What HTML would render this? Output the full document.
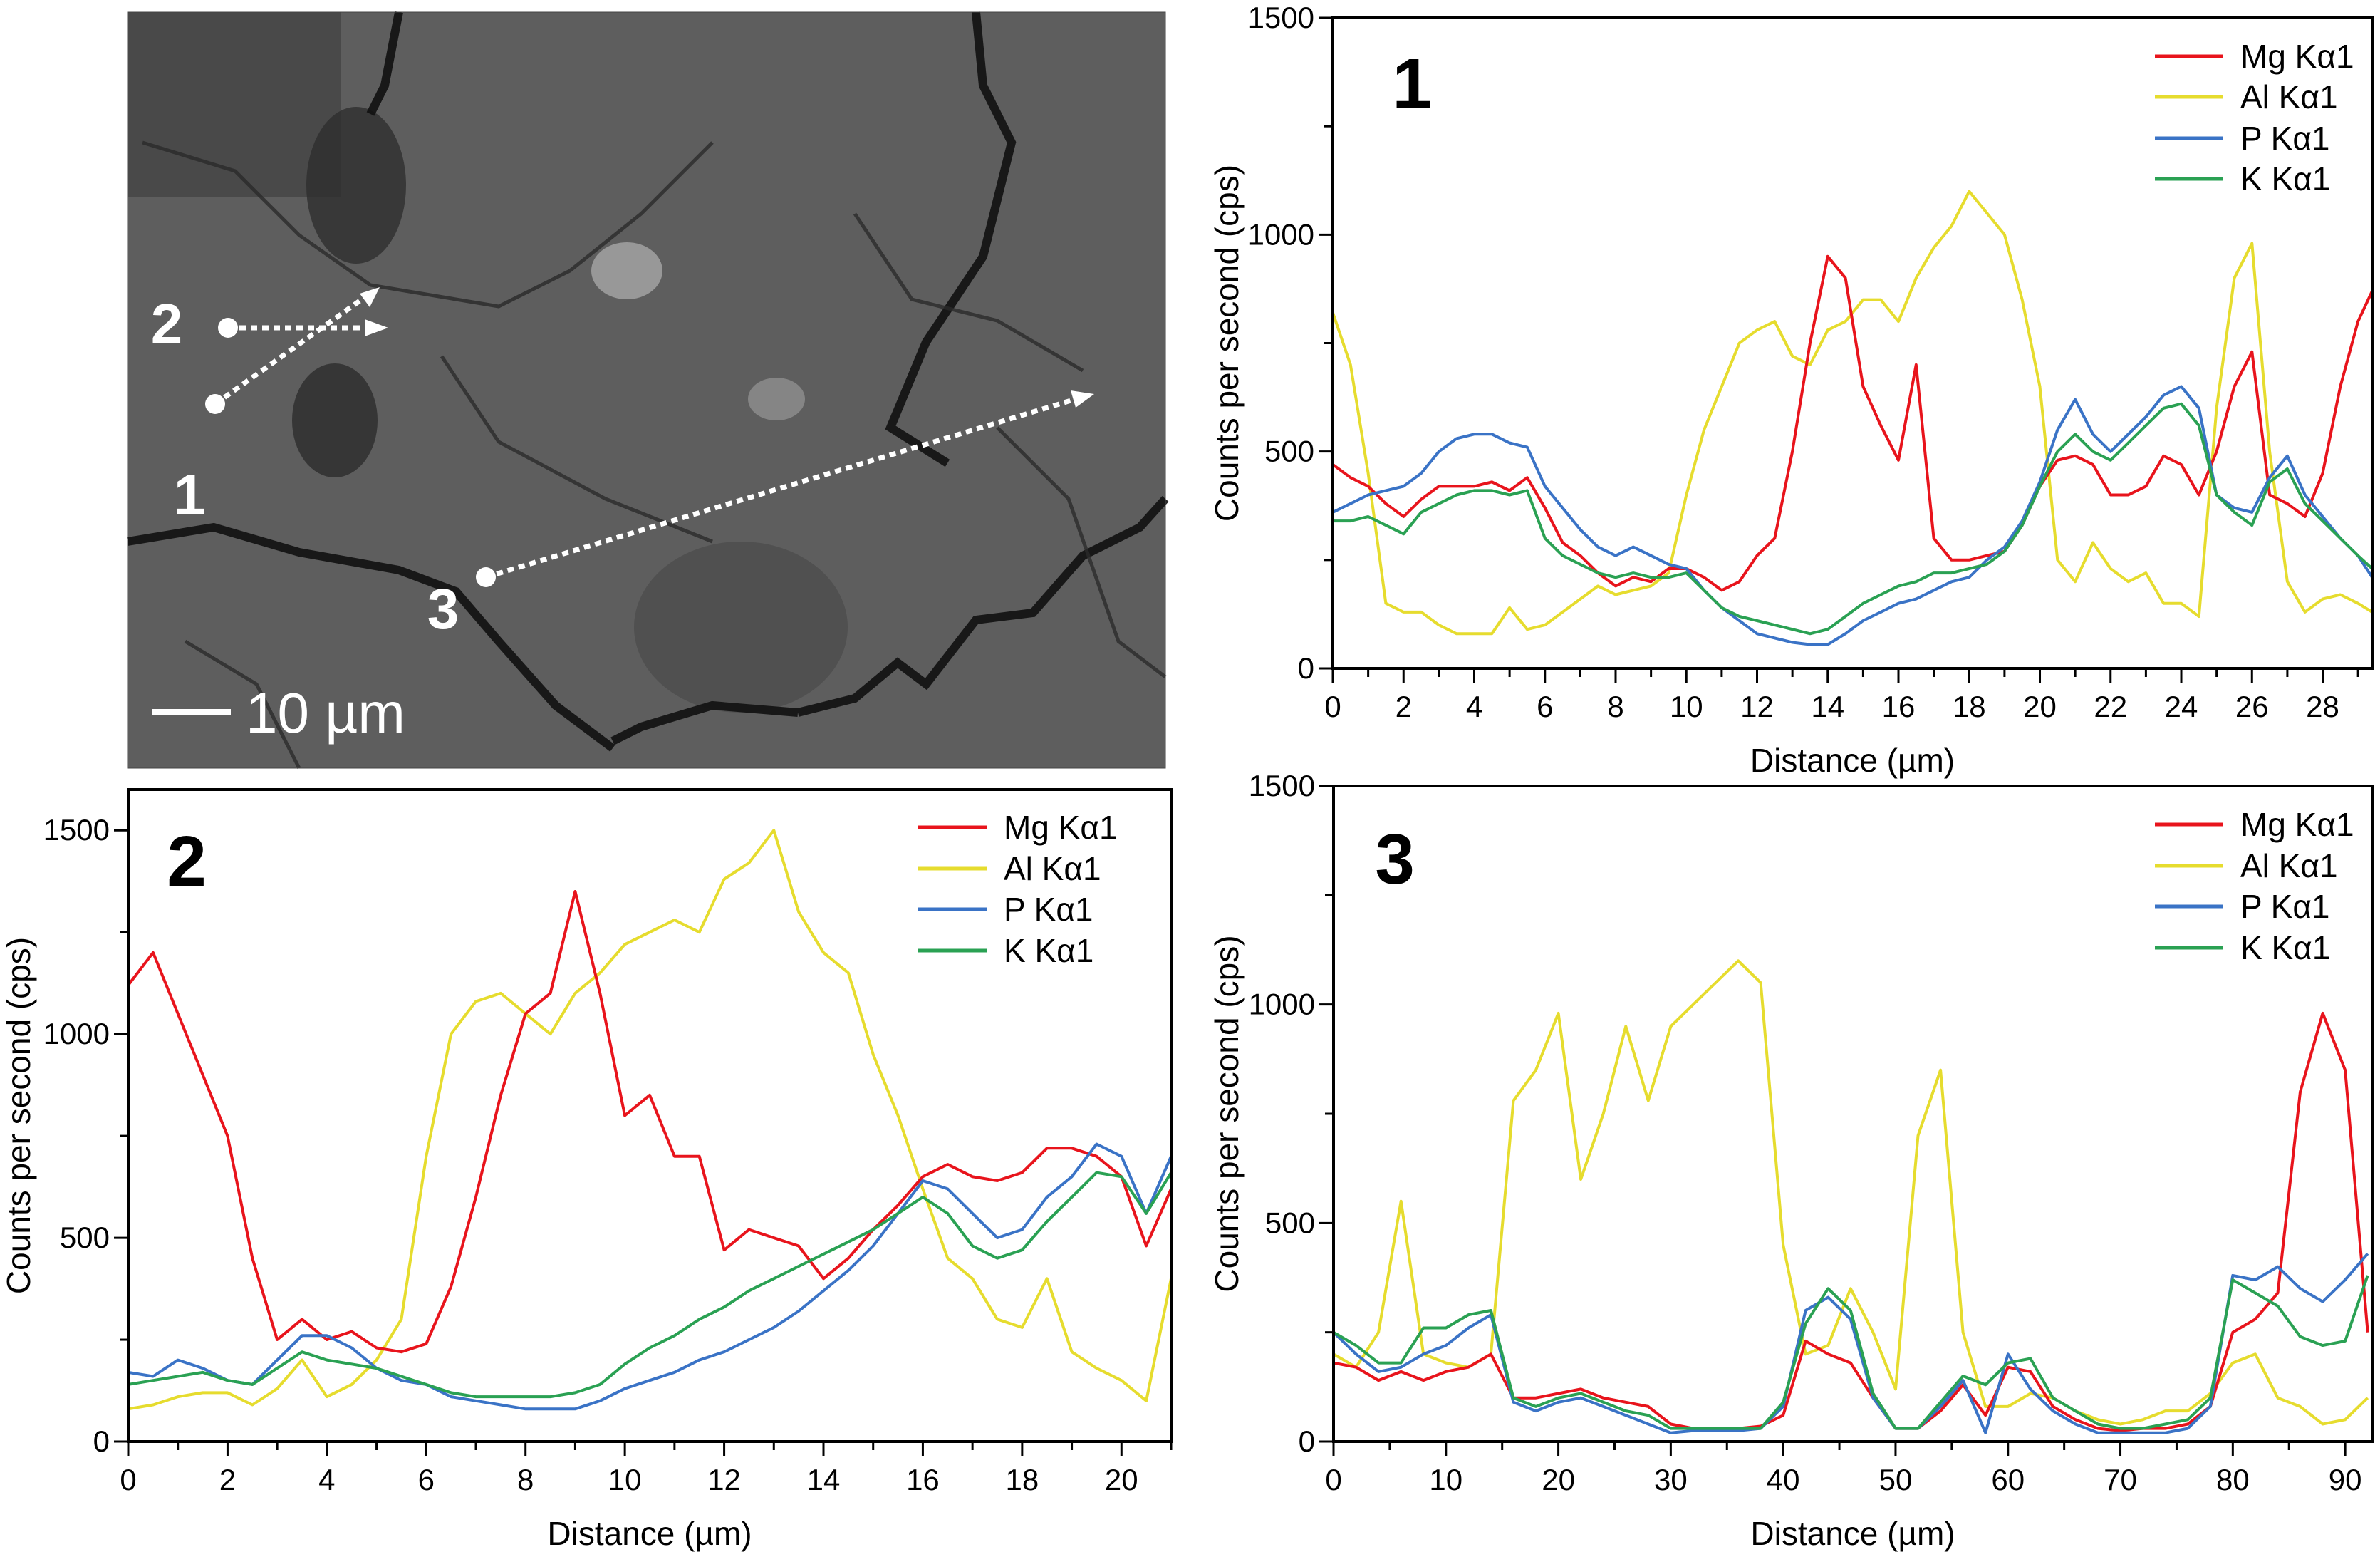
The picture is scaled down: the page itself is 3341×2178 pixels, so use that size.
<!DOCTYPE html>
<html><head><meta charset="utf-8"><style>
html,body{margin:0;padding:0;background:#fff;}
svg{display:block;font-family:"Liberation Sans",Arial,sans-serif;}
</style></head><body>
<svg id="fig" width="3341" height="2178" viewBox="0 0 3341 2178" xmlns="http://www.w3.org/2000/svg">
<g>
<rect x="179" y="17" width="1457" height="1061" fill="#5e5e5e"/>
<rect x="179" y="17" width="300" height="260" fill="#3c3c3c" opacity="0.6"/>
<ellipse cx="500" cy="260" rx="70" ry="110" fill="#2e2e2e" opacity="0.8"/>
<ellipse cx="470" cy="590" rx="60" ry="80" fill="#2c2c2c" opacity="0.8"/>
<ellipse cx="880" cy="380" rx="50" ry="40" fill="#b0b0b0" opacity="0.7"/>
<ellipse cx="1090" cy="560" rx="40" ry="30" fill="#a0a0a0" opacity="0.6"/>
<ellipse cx="1040" cy="880" rx="150" ry="120" fill="#4a4a4a" opacity="0.7"/>
<g fill="none" stroke="#111" stroke-width="12" opacity="0.9">
<polyline points="179,760 300,740 420,775 560,800 640,830 700,900 780,990 860,1050"/>
<polyline points="1370,17 1380,120 1420,200 1380,360 1300,480 1250,600 1330,650"/>
<polyline points="1120,1000 1200,980 1260,930 1300,960 1370,870 1450,860 1520,780 1600,740 1636,700"/>
<polyline points="860,1040 900,1020 1000,990 1120,1000"/>
<polyline points="560,17 540,120 520,160"/>
</g>
<g fill="none" stroke="#2a2a2a" stroke-width="5" opacity="0.8">
<polyline points="200,200 330,240 420,330 520,400 700,430 800,380 900,300 1000,200"/>
<polyline points="260,900 360,960 420,1078"/>
<polyline points="1200,300 1280,420 1400,450 1520,520"/>
<polyline points="620,500 700,620 850,700 1000,760"/>
<polyline points="1400,600 1500,700 1570,900 1636,950"/>
</g>
<rect x="179" y="17" width="1457" height="1061" fill="none" stroke="#444" stroke-width="1"/>
<g stroke="#fff" stroke-width="7" stroke-dasharray="9,7" fill="none">
<line x1="320" y1="460" x2="520" y2="460"/>
<line x1="302" y1="567" x2="515" y2="415"/>
<line x1="682" y1="810" x2="1510" y2="560"/>
</g>
<g fill="#fff">
<polygon points="545,460 512,448 512,472"/>
<polygon points="533,403 505,412 519,431"/>
<polygon points="1536,553 1503,548 1510,572"/>
<circle cx="320" cy="460" r="14"/><circle cx="302" cy="567" r="14"/><circle cx="682" cy="810" r="14"/>
<rect x="213" y="995" width="111" height="8"/>
</g>
<g fill="#fff" font-weight="bold" font-size="80">
<text x="234" y="482" text-anchor="middle">2</text>
<text x="266" y="722" text-anchor="middle">1</text>
<text x="622" y="882" text-anchor="middle">3</text>
</g>
<text x="345" y="1028" fill="#fff" font-size="80">10 µm</text>
</g>
</svg>
<script>
// ---- Chart 1 data ----
const c1x = [0,0.5,1,1.5,2,2.5,3,3.5,4,4.5,5,5.5,6,6.5,7,7.5,8,8.5,9,9.5,10,10.5,11,11.5,12,12.5,13,13.5,14,14.5,15,15.5,16,16.5,17,17.5,18,18.5,19,19.5,20,20.5,21,21.5,22,22.5,23,23.5,24,24.5,25,25.5,26,26.5,27,27.5,28,28.5,29,29.4];
const c1Mg = [470,440,420,380,350,390,420,420,420,430,410,440,370,290,260,220,190,210,200,230,230,210,180,200,260,300,500,750,950,900,650,560,480,700,300,250,250,260,270,330,420,480,490,470,400,400,420,490,470,400,500,650,730,400,380,350,450,650,800,870];
const c1Al = [820,700,450,150,130,130,100,80,80,80,140,90,100,130,160,190,170,180,190,220,400,550,650,750,780,800,720,700,780,800,850,850,800,900,970,1020,1100,1050,1000,850,650,250,200,290,230,200,220,150,150,120,600,900,980,500,200,130,160,170,150,130];
const c1P = [360,380,400,410,420,450,500,530,540,540,520,510,420,370,320,280,260,280,260,240,230,180,140,110,80,70,60,55,55,80,110,130,150,160,180,200,210,250,280,340,430,550,620,540,500,540,580,630,650,600,400,370,360,440,490,400,350,300,260,210];
const c1K = [340,340,350,330,310,360,380,400,410,410,400,410,300,260,240,220,210,220,210,210,220,180,140,120,110,100,90,80,90,120,150,170,190,200,220,220,230,240,270,330,420,500,540,500,480,520,560,600,610,560,400,360,330,430,460,380,340,300,260,230];
// ---- Chart 2 data ----
const c2x = [0,0.5,1,1.5,2,2.5,3,3.5,4,4.5,5,5.5,6,6.5,7,7.5,8,8.5,9,9.5,10,10.5,11,11.5,12,12.5,13,13.5,14,14.5,15,15.5,16,16.5,17,17.5,18,18.5,19,19.5,20,20.5,21];
const c2Mg = [1120,1200,1050,900,750,450,250,300,250,270,230,220,240,380,600,850,1050,1100,1350,1100,800,850,700,700,470,520,500,480,400,450,520,580,650,680,650,640,660,720,720,700,650,480,620];
const c2Al = [80,90,110,120,120,90,130,200,110,140,200,300,700,1000,1080,1100,1050,1000,1100,1150,1220,1250,1280,1250,1380,1420,1500,1300,1200,1150,950,800,620,450,400,300,280,400,220,180,150,100,400];
const c2P = [170,160,200,180,150,140,200,260,260,230,180,150,140,110,100,90,80,80,80,100,130,150,170,200,220,250,280,320,370,420,480,560,640,620,560,500,520,600,650,730,700,560,700];
const c2K = [140,150,160,170,150,140,180,220,200,190,180,160,140,120,110,110,110,110,120,140,190,230,260,300,330,370,400,430,460,490,520,560,600,560,480,450,470,540,600,660,650,560,660];
// ---- Chart 3 data ----
const c3x = [0,2,4,6,8,10,12,14,16,18,20,22,24,26,28,30,32,34,36,38,40,42,44,46,48,50,52,54,56,58,60,62,64,66,68,70,72,74,76,78,80,82,84,86,88,90,92];
const c3Mg = [180,170,140,160,140,160,170,200,100,100,110,120,100,90,80,40,30,30,30,35,60,230,200,180,100,30,30,70,130,60,170,160,80,50,30,25,30,30,40,80,250,280,340,800,980,850,250];
const c3Al = [200,170,250,550,200,180,170,200,780,850,980,600,750,950,780,950,1000,1050,1100,1050,450,200,220,350,250,120,700,850,250,80,80,110,100,70,50,40,50,70,70,110,180,200,100,80,40,50,100];
const c3P = [250,200,160,170,200,220,260,290,90,70,90,100,80,60,40,20,25,25,25,30,80,300,330,280,100,30,30,80,140,20,200,120,70,40,20,20,20,20,30,80,380,370,400,350,320,370,430];
const c3K = [250,220,180,180,260,260,290,300,100,80,100,110,90,70,60,30,30,30,30,30,90,270,350,300,110,30,30,90,150,130,180,190,100,70,40,30,30,40,50,100,370,340,310,240,220,230,380];
// ---- tick labels ----
const c1XTicks = [0,2,4,6,8,10,12,14,16,18,20,22,24,26,28];
const c2XTicks = [0,2,4,6,8,10,12,14,16,18,20];
const c3XTicks = [0,10,20,30,40,50,60,70,80,90];
const yTicks = [0,500,1000,1500];
const seriesNames = ["Mg Kα1","Al Kα1","P Kα1","K Kα1"];
const seriesColors = ["#e8141c","#e6dc2e","#3a73c6","#2aa153"];

const NS = "http://www.w3.org/2000/svg";
const svg = document.getElementById("fig");
function mk(tag, attrs, parent){const e=document.createElementNS(NS,tag);for(const k in attrs)e.setAttribute(k,attrs[k]);(parent||svg).appendChild(e);return e;}

function chart(id, box, xmax, ymax, xs, series, xTicks, xMinor, yMinor, legY, legX, num, numPos, yTitleX){
  const g = mk("g",{});
  
  
  const X = v => box.l + v/xmax*(box.r-box.l);
  const Y = v => box.b - v/ymax*(box.b-box.t);
  const cp = mk("clipPath",{id:"clip"+id},g);
  mk("rect",{x:box.l,y:box.t,width:box.r-box.l,height:box.b-box.t},cp);
  const order=[1,0,2,3];
  const sg = mk("g",{"clip-path":"url(#clip"+id+")"},g);
  for(const si of order){
    const vals = series[si];
    const pts = xs.map((x,i)=>X(x).toFixed(1)+","+Y(vals[i]).toFixed(1)).join(" ");
    const pl = mk("polyline",{points:pts,fill:"none",stroke:seriesColors[si],"stroke-width":4,"stroke-linejoin":"round"},sg);
    
    
  }
  const fr = mk("rect",{x:box.l,y:box.t,width:box.r-box.l,height:box.b-box.t,fill:"none",stroke:"#000","stroke-width":4},g);
  
  
  // x ticks
  for(let v=0; v<=xmax+1e-6; v+=xMinor){
    const major = xTicks.some(t=>Math.abs(t-v)<1e-6);
    mk("line",{x1:X(v),x2:X(v),y1:box.b,y2:box.b+(major?20:12),stroke:"#000","stroke-width":3},g);
  }
  for(const t of xTicks){
    const tx = mk("text",{x:X(t),y:box.b+68,"text-anchor":"middle","font-size":42},g);
    tx.textContent=t;
    
    
  }
  for(let v=0; v<=ymax+1e-6; v+=yMinor){
    const major = yTicks.includes(Math.round(v));
    mk("line",{x1:box.l,x2:box.l-(major?20:12),y1:Y(v),y2:Y(v),stroke:"#000","stroke-width":3},g);
  }
  for(const t of yTicks){
    if(t>ymax) continue;
    const ty = mk("text",{x:box.l-26,y:Y(t)+14,"text-anchor":"end","font-size":42},g);
    ty.textContent=t;
    
    
  }
  const xt = mk("text",{x:(box.l+box.r)/2,y:box.b+145,"text-anchor":"middle","font-size":46},g);
  xt.textContent="Distance (µm)";
  
  
  const yc=(box.t+box.b)/2;
  const yt = mk("text",{x:yTitleX,y:yc,"text-anchor":"middle","font-size":46,transform:"rotate(-90 "+yTitleX+" "+yc+")"},g);
  yt.textContent="Counts per second (cps)";
  
  
  const nt = mk("text",{x:numPos[0],y:numPos[1],"text-anchor":"middle","font-size":100,"font-weight":"bold"},g);
  nt.textContent=num;
  
  
  for(let i=0;i<4;i++){
    const lg = mk("g",{},g);
    
    
    mk("line",{x1:legX,x2:legX+96,y1:legY[i],y2:legY[i],stroke:seriesColors[i],"stroke-width":5},lg);
    const lt = mk("text",{x:legX+120,y:legY[i]+16,"font-size":46},lg);
    lt.textContent=seriesNames[i];
  }
}
chart("1",{l:1871,r:3330,t:25,b:938},29.4,1500,c1x,[c1Mg,c1Al,c1P,c1K],c1XTicks,1,250,[79,136,194,251],3025,"1",[1982,152],1738);
chart("2",{l:180,r:1644,t:1108,b:2023},21.0,1600,c2x,[c2Mg,c2Al,c2P,c2K],c2XTicks,1,250,[1161,1219,1276,1334],1289,"2",[262,1243],42);
chart("3",{l:1872,r:3330,t:1103,b:2023},92.4,1500,c3x,[c3Mg,c3Al,c3P,c3K],c3XTicks,5,250,[1157,1215,1272,1330],3025,"3",[1958,1240],1738);
</script>
</body></html>
